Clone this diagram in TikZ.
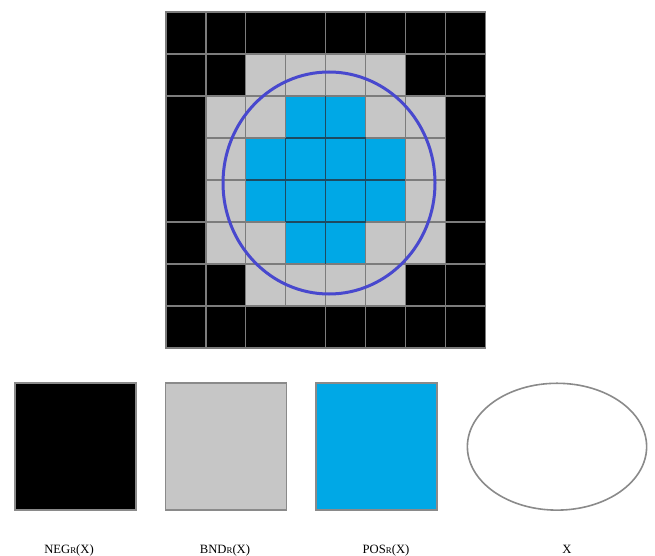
\documentclass[tikz,border=0pt]{standalone}
\usepackage{fontspec}
\usepackage{tikz}
\usetikzlibrary{shapes.geometric}
\newfontfamily\labfont{Liberation Serif}
\definecolor{cellN}{HTML}{000000}
\definecolor{cellB}{HTML}{C6C6C6}
\definecolor{cellP}{HTML}{00A8E6}
\definecolor{gridgray}{HTML}{7C7C7C}
\definecolor{griddark}{HTML}{1E4A60}
\definecolor{setblue}{HTML}{4848CE}
\definecolor{boxedge}{HTML}{8A8A8A}
\tikzset{
  gridline/.style={gridgray,line width=1.3*0.025cm},
  posline/.style={griddark,line width=1.3*0.025cm},
  setline/.style={setblue,line width=3*0.025cm},
  legbox/.style={rectangle,draw=boxedge,line width=0.03cm,minimum width=3.025cm,minimum height=3.175cm,inner sep=0pt},
  legset/.style={ellipse,draw=boxedge,line width=0.04cm,minimum width=4.48cm,minimum height=3.17cm,inner sep=0pt},
  leglabel/.style={font=\labfont\fontsize{9}{10}\selectfont,anchor=base,inner sep=0pt}
}
\newcommand{\rsub}{{\fontsize{6.3}{7}\selectfont R}}
\begin{document}
\begin{tikzpicture}[x=0.025cm,y=-0.025cm]
  \useasboundingbox (0,0) rectangle (655,556);
  \def\gx{166}\def\gy{12}\def\cw{39.9}\def\ch{42}
  % cells: N = negative region, B = boundary, P = positive region
  \foreach \r/\row in {0/{N,N,N,N,N,N,N,N},1/{N,N,B,B,B,B,N,N},2/{N,B,B,P,P,B,B,N},
      3/{N,B,P,P,P,P,B,N},4/{N,B,P,P,P,P,B,N},5/{N,B,B,P,P,B,B,N},
      6/{N,N,B,B,B,B,N,N},7/{N,N,N,N,N,N,N,N}} {%
    \foreach \cc [count=\c from 0] in \row {%
      \fill[cell\cc] (\gx+\c*\cw,\gy+\r*\ch) rectangle ++(\cw,\ch);
    }}
  % grid lines, a few are left out inside the black border
  \foreach \i in {1,2,4,5,6,7} {\draw[gridline] (\gx+\i*\cw,\gy) -- ++(0,8*\ch);}
  \draw[gridline] (\gx+3*\cw,\gy+\ch) -- ++(0,6*\ch);
  \foreach \j in {1,2,5,6,7} {\draw[gridline] (\gx,\gy+\j*\ch) -- ++(8*\cw,0);}
  \foreach \j in {3,4} {\draw[gridline] (\gx+\cw,\gy+\j*\ch) -- ++(6*\cw,0);}
  \draw[gridline] (\gx,\gy) rectangle ++(8*\cw,8*\ch);
  % lines between two blue cells look darker
  \foreach \i/\r in {4/2,3/3,4/3,5/3,3/4,4/4,5/4,4/5} {\draw[posline] (\gx+\i*\cw,\gy+\r*\ch) -- ++(0,\ch);}
  \foreach \j/\c in {3/3,3/4,4/2,4/3,4/4,4/5,5/3,5/4} {\draw[posline] (\gx+\c*\cw,\gy+\j*\ch) -- ++(\cw,0);}
  % the set X
  \draw[setline] (329,183) ellipse [x radius=106, y radius=111];
  % legend
  \node[legbox,fill=cellN] (neg) at (75.5,446.5) {};
  \node[legbox,fill=cellB] (bnd) at (226,446.5) {};
  \node[legbox,fill=cellP] (pos) at (376.5,446.5) {};
  \node[legset] (set) at (557,446.7) {};
  \node[leglabel] (neglab) at (69,553) {NEG\rsub(X)};
  \node[leglabel] (bndlab) at (225,553) {BND\rsub(X)};
  \node[leglabel] (poslab) at (386,553) {POS\rsub(X)};
  \node[leglabel] (setlab) at (567,553) {X};
\end{tikzpicture}
\end{document}
